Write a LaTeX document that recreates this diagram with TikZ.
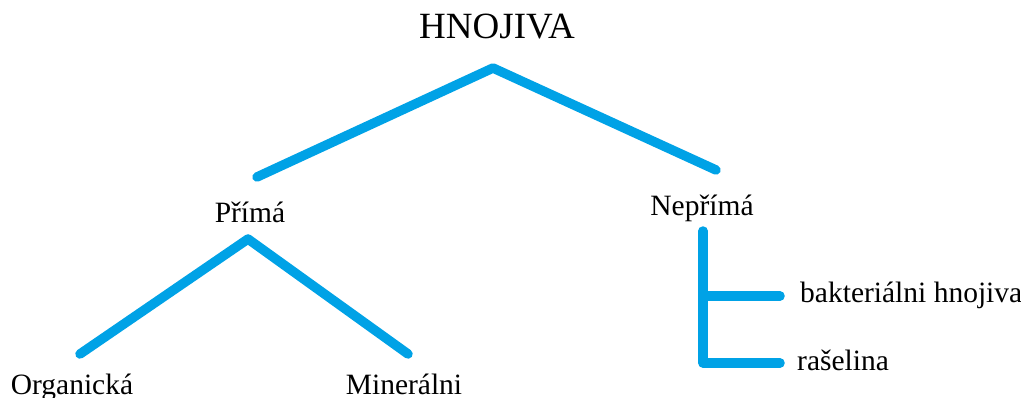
\documentclass[tikz,border=0pt]{standalone}
\usepackage{fontspec}
\setmainfont{Liberation Serif}
\usepackage{xcolor}
\usepackage{tikz}
\usetikzlibrary{positioning,calc}
\definecolor{branchblue}{RGB}{0,162,230}
\tikzset{
  branch/.style={line width=9.5pt,branchblue,line cap=round,line join=round},
  word/.style={inner sep=0pt,anchor=base,font=\fontsize{29.5}{34}\selectfont},
  rootword/.style={word,font=\fontsize{37}{42}\selectfont}
}

\begin{document}
\begin{tikzpicture}[x=1pt,y=-1pt]
    \useasboundingbox (0,0) rectangle (1021,397);

    % Root
    \node[rootword] (hnojiva) at (497,38) {HNOJIVA};
    \coordinate (top) at (493,68);
    \coordinate (topL) at (257,177);
    \coordinate (topR) at (716,170);
    \draw[branch] (topL) -- (top) -- (topR);

    % Left branch: Přímá
    \node[word] (prima) at (250,222) {Přímá};
    \coordinate (primaTop) at (248,239);
    \coordinate (primaL) at (80,354);
    \coordinate (primaR) at (408,354);
    \draw[branch] (primaL) -- (primaTop) -- (primaR);
    \node[word] (organicka) at (72,394) {Organická};
    \node[word] (mineralni) at (404,394) {Minerálni};

    % Right branch: Nepřímá
    \node[word] (neprima) at (702,215) {Nepřímá};
    \coordinate (stemTop) at (703,231);
    \coordinate (stemMid) at (703,296);
    \coordinate (stemBot) at (703,363);
    \node[word,anchor=base west] (bakterie) at (800,302) {bakteriálni hnojiva};
    \node[word,anchor=base west] (raselina) at (797,370) {rašelina};
    \draw[branch] (stemTop) -- (stemBot) -- ++(77,0);
    \draw[branch] (stemMid) -- ++(77,0);
\end{tikzpicture}
\end{document}
